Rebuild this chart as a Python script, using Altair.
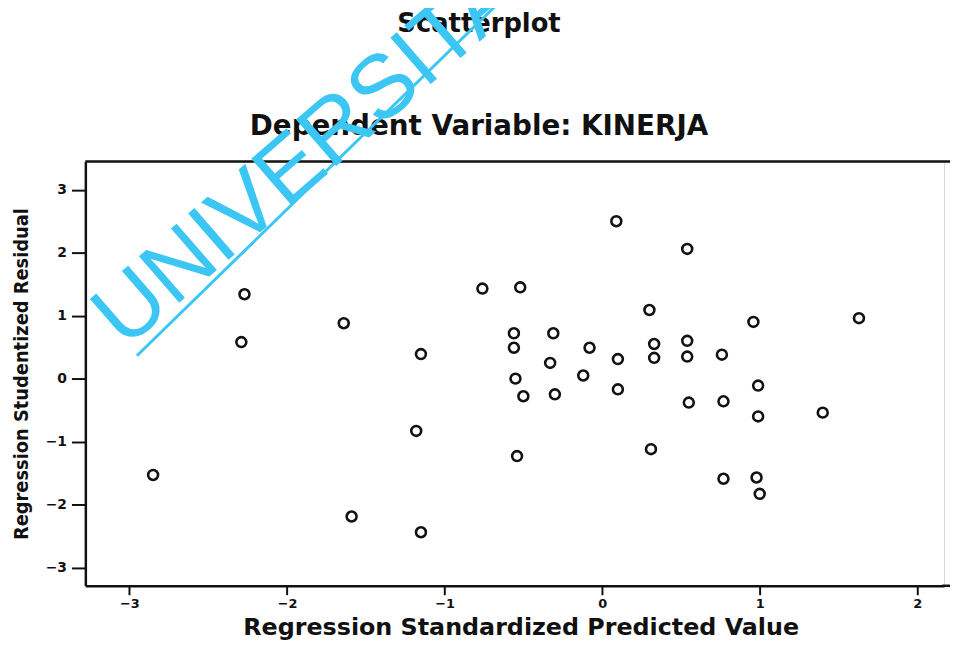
import altair as alt
import pandas as pd

# Regression Standardized Predicted Value (x) / Studentized Residual (y)
pred = [-2.85, -2.27, -2.29, -1.64, -1.15, -1.18, -1.59, -1.15,
        -0.76, -0.52, 0.09, 0.54, -0.56, -0.31, -0.56, -0.08,
        -0.33, 0.30, 0.33, 0.10, 0.54, 0.33, 0.54, 0.76,
        0.96, 1.63, -0.55, -0.12, 0.10, -0.50, -0.30, 0.55,
        0.77, 0.99, 0.99, 1.40, -0.54, 0.31, 0.77, 0.98, 1.00]
resid = [-1.53, 1.34, 0.58, 0.88, 0.39, -0.83, -2.19, -2.44,
         1.43, 1.45, 2.50, 2.06, 0.72, 0.72, 0.49, 0.49,
         0.25, 1.09, 0.55, 0.31, 0.60, 0.33, 0.35, 0.38,
         0.90, 0.96, 0.00, 0.05, -0.17, -0.28, -0.25, -0.38,
         -0.36, -0.11, -0.60, -0.54, -1.23, -1.12, -1.59, -1.57, -1.83]

x_ticks = [-3, -2, -1, 0, 1, 2]
y_ticks = [-3, -2, -1, 0, 1, 2, 3]

title_main = "Scatterplot"
title_sub = "Dependent Variable: KINERJA"
x_title = "Regression Standardized Predicted Value"
y_title = "Regression Studentized Residual"
watermark = "UNIVERSITAS"

W, H = 866, 428
df = pd.DataFrame({"pred": pred, "resid": resid})

pts = alt.Chart(df).mark_point(
    shape="circle", filled=False, stroke="#111", strokeWidth=2.6, size=100, opacity=1
).encode(
    x=alt.X("pred:Q", scale=alt.Scale(domain=[-3.28, 2.17], nice=False, zero=False),
            axis=alt.Axis(values=x_ticks, title=x_title, grid=False, format="d",
                          labelFont="DejaVu Sans", labelFontWeight="bold", labelFontSize=13,
                          labelColor="#111", labelPadding=3,
                          tickSize=9, tickWidth=2, tickColor="#111",
                          domainColor="#111", domainWidth=2.5,
                          titleFont="DejaVu Sans", titleFontWeight="bold", titleFontSize=24,
                          titleColor="#111", titlePadding=5, titleX=439)),
    y=alt.Y("resid:Q", scale=alt.Scale(domain=[-3.29, 3.45], nice=False, zero=False),
            axis=alt.Axis(values=y_ticks, title=y_title, grid=False, format="d",
                          labelFont="DejaVu Sans", labelFontWeight="bold", labelFontSize=14,
                          labelColor="#111", labelPadding=5,
                          tickSize=14, tickWidth=2, tickColor="#111",
                          domainColor="#111", domainWidth=2.5,
                          titleFont="DejaVu Sans Condensed, Liberation Sans",
                          titleFontWeight="bold",
                          titleFontSize=20, titleColor="#111", titlePadding=14)),
)

one = pd.DataFrame({"k": [0]})

top_rule = alt.Chart(one).mark_rule(color="#111", strokeWidth=2.5).encode(
    x=alt.value(0), x2=alt.value(W + 8), y=alt.value(0))
bot_rule = alt.Chart(one).mark_rule(color="#111", strokeWidth=2.5).encode(
    x=alt.value(W - 2), x2=alt.value(W + 8), y=alt.value(H))

t1 = alt.Chart(pd.DataFrame({"t": [title_main]})).mark_text(
    font="DejaVu Sans", fontWeight="bold", fontSize=26, color="#111",
    align="center", baseline="middle"
).encode(text="t:N", x=alt.value(397), y=alt.value(-138))

t2 = alt.Chart(pd.DataFrame({"t": [title_sub]})).mark_text(
    font="DejaVu Sans", fontWeight="bold", fontSize=28, color="#111",
    align="center", baseline="middle"
).encode(text="t:N", x=alt.value(397), y=alt.value(-35))

wm = alt.Chart(pd.DataFrame({"t": [watermark]})).mark_text(
    font="Liberation Sans", fontSize=90, color="#3CC6F3",
    align="left", baseline="alphabetic", angle=319
).encode(text="t:N", x=alt.value(40), y=alt.value(190))

wm_line = alt.Chart(one).mark_rule(color="#3CC6F3", strokeWidth=3).encode(
    x=alt.value(52), y=alt.value(196), x2=alt.value(417), y2=alt.value(-160))

chart = alt.layer(pts, top_rule, bot_rule, t1, t2, wm, wm_line).properties(
    width=W, height=H,
    padding={"left": 78, "top": 152, "right": 6, "bottom": 54},
    autosize=alt.AutoSizeParams(type="none"),
    background="white",
).configure_view(stroke="#d8d8d8", strokeWidth=1)

chart.save("out.html", embed_options={"renderer": "svg", "actions": False})
